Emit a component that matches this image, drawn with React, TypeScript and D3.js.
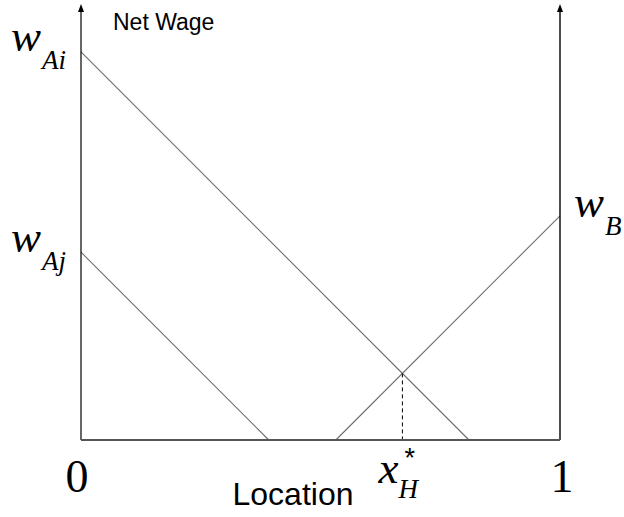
import React from "react";
import * as d3 from "d3";

const WIDTH = 624;
const HEIGHT = 517;

// Location runs from city A (0) to city B (1); net wage shares the same units
const LOCATION_DOMAIN: [number, number] = [0, 1];
const WAGE_DOMAIN: [number, number] = [0, 0.91];
const LOCATION_TICKS = [
  { value: 0, label: "0" },
  { value: 1, label: "1" },
];

// Net wage lines as [location, net wage] end points
const NET_WAGE_AI: [number, number][] = [
  [0, 0.81],
  [0.81, 0],
];
const NET_WAGE_AJ: [number, number][] = [
  [0, 0.392],
  [0.392, 0],
];
const NET_WAGE_B: [number, number][] = [
  [0.532, 0],
  [1, 0.468],
];

// Indifferent location where w_Ai and w_B cross
const X_STAR = 0.671;
const X_STAR_WAGE = 0.139;

const SERIF = "'Liberation Serif', 'Times New Roman', serif";
const SANS = "'Liberation Sans', Arial, sans-serif";

export default function App() {
  const x = d3.scaleLinear().domain(LOCATION_DOMAIN).range([81, 560]);
  const y = d3.scaleLinear().domain(WAGE_DOMAIN).range([440, 4]);
  const line = d3
    .line<[number, number]>()
    .x((d) => x(d[0]))
    .y((d) => y(d[1]));

  const x0 = x(0);
  const x1 = x(1);
  const yBase = y(0);
  const yTop = y(WAGE_DOMAIN[1]);

  const arrow = (cx: number) =>
    `M${cx},${yTop} L${cx - 3},${yTop + 8} L${cx + 3},${yTop + 8} Z`;

  const wageLabel = (
    main: string,
    sub: string,
    lx: number,
    baseline: number,
    key: string
  ) => (
    <text key={key} x={lx} y={baseline} fontFamily={SERIF} fontStyle="italic" fill="#000">
      <tspan fontSize={45}>{main}</tspan>
      <tspan fontSize={27} dx={1} dy={18}>
        {sub}
      </tspan>
    </text>
  );

  return (
    <svg
      width={WIDTH}
      height={HEIGHT}
      viewBox={`0 0 ${WIDTH} ${HEIGHT}`}
      style={{ position: "absolute", left: 0, top: 0, background: "#fff", display: "block" }}
    >
      {/* net wage lines */}
      <g fill="none" stroke="#6e6e6e" strokeWidth={1.1}>
        <path d={line(NET_WAGE_AI) ?? ""} />
        <path d={line(NET_WAGE_AJ) ?? ""} />
        <path d={line(NET_WAGE_B) ?? ""} />
      </g>

      {/* drop line to the indifferent location */}
      <line
        x1={x(X_STAR)}
        x2={x(X_STAR)}
        y1={y(X_STAR_WAGE)}
        y2={yBase}
        stroke="#000"
        strokeWidth={1}
        strokeDasharray="4,3"
      />

      {/* axes */}
      <line x1={x0} x2={x0} y1={yBase} y2={yTop + 4} stroke="#000" strokeWidth={1.2} />
      <line x1={x1} x2={x1} y1={yBase} y2={yTop + 4} stroke="#000" strokeWidth={1.4} />
      <path d={arrow(x0)} fill="#000" />
      <path d={arrow(x1)} fill="#000" />
      <line x1={x0} x2={x1} y1={yBase} y2={yBase} stroke="#555" strokeWidth={2} />

      {/* axis titles */}
      <text x={113} y={30} fontFamily={SANS} fontSize={23} fill="#000">
        Net Wage
      </text>
      <text x={293} y={505} fontFamily={SANS} fontSize={32} textAnchor="middle" fill="#000">
        Location
      </text>

      {/* location ticks */}
      {LOCATION_TICKS.map((t) => (
        <text
          key={t.label}
          x={x(t.value) + (t.value === 0 ? -4 : 2)}
          y={492}
          fontFamily={SERIF}
          fontSize={46}
          textAnchor="middle"
          fill="#000"
        >
          {t.label}
        </text>
      ))}

      {/* x*_H label */}
      <text x={x(X_STAR) - 24} y={483} fontFamily={SERIF} fontStyle="italic" fill="#000">
        <tspan fontSize={45}>x</tspan>
        <tspan fontSize={27} dx={0} dy={15}>
          H
        </tspan>
      </text>
      <text x={x(X_STAR) + 2} y={467} fontFamily={SANS} fontSize={27} fill="#000">
        *
      </text>

      {/* wage labels */}
      {wageLabel("w", "Ai", 11, y(NET_WAGE_AI[0][1]) - 1, "ai")}
      {wageLabel("w", "Aj", 11, y(NET_WAGE_AJ[0][1]), "aj")}
      {wageLabel("w", "B", x1 + 14, y(NET_WAGE_B[1][1]) + 1, "b")}
    </svg>
  );
}
